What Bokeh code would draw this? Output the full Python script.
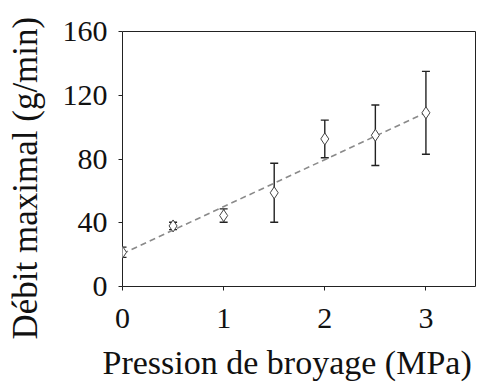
from bokeh.plotting import figure
from bokeh.models import ColumnDataSource, Whisker, TeeHead, Range1d, FixedTicker, Title
from bokeh.embed import file_html
from bokeh.resources import INLINE
import numpy as np

pression = [0.0, 0.5, 1.0, 1.5, 2.0, 2.5, 3.0]
debit = [21.5, 38.0, 44.5, 58.8, 92.6, 94.9, 109.0]
erreur = [3.2, 2.3, 4.2, 18.5, 11.8, 19.0, 26.0]
fit_intercept = 20.6
fit_slope = 29.5
x_ticks = [0, 1, 2, 3]
y_ticks = [0, 40, 80, 120, 160]
x_title = "Pression de broyage (MPa)"
y_title = "Débit maximal (g/min)"

FONT = "Liberation Serif"

p = figure(width=476, height=382, output_backend="svg", toolbar_location=None,
           x_range=Range1d(0, 3.5), y_range=Range1d(0, 160),
           min_border_left=122, min_border_right=0, min_border_top=31, min_border_bottom=96)

p.background_fill_color = "white"
p.border_fill_color = "white"
p.outline_line_color = "#222222"
p.outline_line_width = 1
p.grid.visible = False

src = ColumnDataSource(dict(
    x=pression, y=debit,
    lo=[d - e for d, e in zip(debit, erreur)],
    hi=[d + e for d, e in zip(debit, erreur)],
))

fx = np.array([pression[0], pression[-1]])
p.line(fx, fit_intercept + fit_slope * fx, line_color="#8a8a8a", line_width=1.6, line_dash="6 4")

w = Whisker(source=src, base="x", lower="lo", upper="hi",
            line_color="#222222", line_width=1.4,
            upper_head=TeeHead(size=8, line_color="#222222", line_width=1.4),
            lower_head=TeeHead(size=8, line_color="#222222", line_width=1.4))
p.add_layout(w)

p.scatter("x", "y", source=src, marker="diamond", size=12,
          fill_color="white", line_color="#444444", line_width=1)

for ax in (p.xaxis[0], p.yaxis[0]):
    ax.axis_line_color = None
    ax.major_tick_line_color = "#222222"
    ax.major_tick_in = 0
    ax.major_tick_out = 4
    ax.minor_tick_line_color = None
    ax.major_label_text_font = FONT
    ax.major_label_text_font_size = "30px"
    ax.major_label_text_color = "#111111"
    ax.axis_label = " "
    ax.axis_label_text_font_size = "1px"

p.xaxis.ticker = FixedTicker(ticks=x_ticks)
p.yaxis.ticker = FixedTicker(ticks=y_ticks)
p.xaxis.major_label_standoff = 18
p.yaxis.major_label_standoff = 11
p.xaxis.axis_label_standoff = 9
p.yaxis.axis_label_standoff = 11

xt = Title(text=x_title, align="left", offset=-20, vertical_align="top", standoff=0,
           text_font=FONT, text_font_size="34px", text_font_style="normal", text_color="#111111")
p.add_layout(xt, "below")

yt = Title(text=y_title, align="left", offset=-53, vertical_align="bottom", standoff=0,
           text_font=FONT, text_font_size="35px", text_font_style="normal", text_color="#111111")
p.add_layout(yt, "left")

open("out.html", "w").write(file_html(p, INLINE))
